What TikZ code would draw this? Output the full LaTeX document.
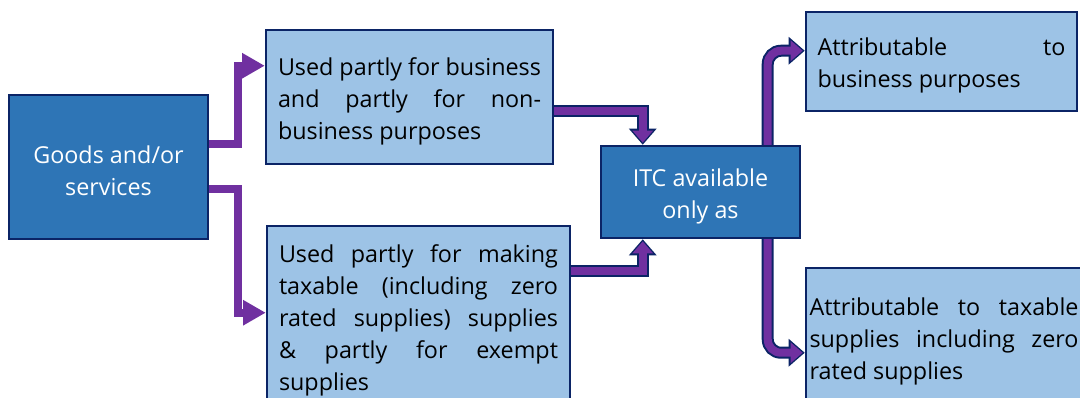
\documentclass[tikz,border=0pt]{standalone}
\usepackage{fontspec}
\setmainfont{Open Sans}
\usetikzlibrary{arrows.meta,calc,backgrounds}
\definecolor{navy}{HTML}{0B2466}
\definecolor{darkfill}{HTML}{2E75B6}
\definecolor{lightfill}{HTML}{9DC3E6}
\definecolor{arrowpurple}{HTML}{7030A0}
\newcommand\topstrut{\rule{0pt}{19.5pt}}
\tikzset{
  boxbase/.style={draw=navy, line width=1.9pt, font=\fontsize{17.5}{24}\selectfont, inner ysep=0pt},
  darkbox/.style={boxbase, fill=darkfill, text=white, align=center},
  lightbox/.style={boxbase, fill=lightfill, text=black, align=justify},
  plainarrow/.style={draw=arrowpurple, line width=6pt, -{Triangle[width=18pt,length=17pt]}},
  outerarrow/.style={draw=navy, line width=9pt, -{Triangle[width=20pt,length=12pt]}},
  innerarrow/.style={draw=arrowpurple, line width=6pt, shorten >=1.6pt, -{Triangle[width=15pt,length=9pt]}}
}
\begin{document}
\begin{tikzpicture}[x=0.75pt,y=-0.75pt]
\useasboundingbox (0,0) rectangle (1080,398);
\clip (0,0) rectangle (1080,398);

\node[darkbox, minimum width=149.25pt, minimum height=108pt] (goods) at (108.5,167) {\topstrut Goods and/or\\services};
\node[lightbox, minimum width=215.25pt, minimum height=100.5pt, text width=197.25pt, inner xsep=9pt] (used1) at (409.5,97)
  {\topstrut Used partly for business\linebreak and partly for non-\linebreak business purposes};
\node[lightbox, minimum width=227.25pt, minimum height=135pt, text width=209.25pt, inner xsep=9pt] (used2) at (418.5,316)
  {\topstrut Used partly for making\linebreak taxable (including zero\linebreak rated supplies) supplies\linebreak \& partly for exempt\linebreak supplies};
\node[darkbox, minimum width=149.25pt, minimum height=69pt] (itc) at (700.5,192) {\topstrut ITC available\\only as};
\node[lightbox, minimum width=203.25pt, minimum height=74.25pt, text width=186pt, inner xsep=8.6pt] (attr1) at (941.5,61.5)
  {\topstrut Attributable to\linebreak business purposes};
\node[lightbox, minimum width=207pt, minimum height=103.5pt, text width=201.75pt, inner xsep=2.6pt] (attr2) at (944,337)
  {\topstrut Attributable to taxable\linebreak supplies including zero\linebreak rated supplies};

\begin{scope}[on background layer]
\fill[white] (0,0) rectangle (1080,398);
\draw[plainarrow] ($(goods.north east)+(-2,50)$) -- ++(31,0) |- ($(used1.north west)+(0,37)$);
\draw[plainarrow] ($(goods.north east)+(-2,95)$) -- ++(31,0) |- ($(used2.north west)+(0,88)$);
\foreach \s in {outerarrow,innerarrow}{
  \draw[\s] ($(used1.north east)+(-3,82)$) -| ($(itc.north west)+(43,0)$);
  \draw[\s] ($(used2.north east)+(-3,46)$) -| ($(itc.south west)+(43,0)$);
  \draw[\s, rounded corners=10pt] ($(itc.north west)+(168,2)$) |- ($(attr1.north west)+(0,40)$);
  \draw[\s, rounded corners=10pt] ($(itc.south west)+(168,-2)$) |- ($(attr2.north west)+(0,86)$);
}
\end{scope}
\end{tikzpicture}
\end{document}
